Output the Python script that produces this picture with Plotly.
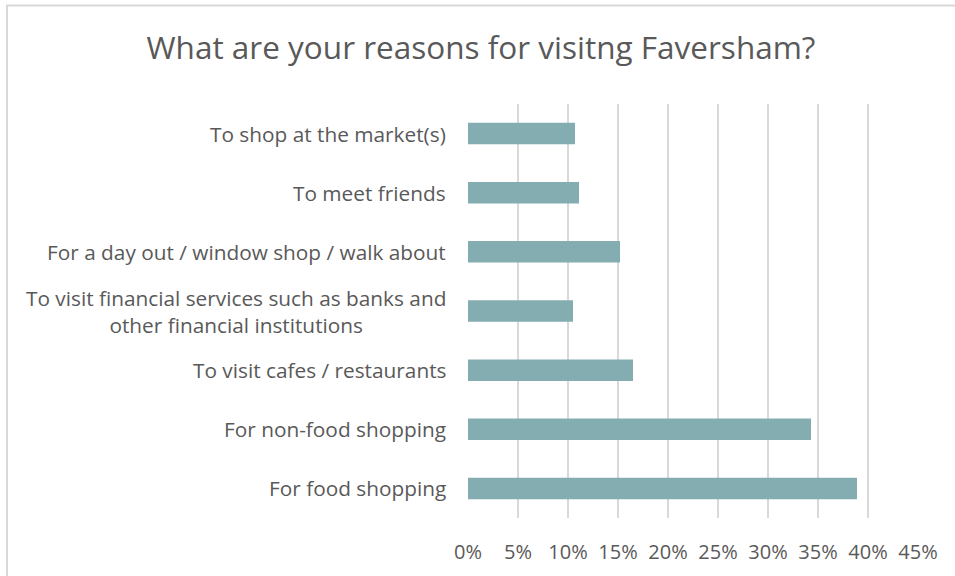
import plotly.graph_objects as go

# Survey responses, listed top to bottom as shown on the chart
reasons = [
    "To shop at the market(s)",
    "To meet friends",
    "For a day out / window shop / walk about",
    "To visit financial services such as banks and<br>other financial institutions",
    "To visit cafes / restaurants",
    "For non-food shopping",
    "For food shopping",
]
shares = [0.107, 0.111, 0.152, 0.105, 0.165, 0.343, 0.389]

x_ticks = [0, 0.05, 0.10, 0.15, 0.20, 0.25, 0.30, 0.35, 0.40, 0.45]
x_tick_text = ["0%", "5%", "10%", "15%", "20%", "25%", "30%", "35%", "40%", "45%"]

title_text = "What are your reasons for visitng Faversham?"

W, H = 955, 576
L, R, T, B = 468, 37, 104, 58
plot_w, plot_h = W - L - R, H - T - B

TEXT = "#595959"
GRID = "#D9D9D9"
BAR = "#84ADB2"
FONT = "Open Sans"

fig = go.Figure(
    go.Bar(
        x=shares,
        y=reasons,
        orientation="h",
        marker=dict(color=BAR, line=dict(width=0)),
        hoverinfo="skip",
    )
)

# category labels, centred per line
for r in reasons:
    fig.add_annotation(
        x=0, xref="paper", y=r, yref="y",
        text=r, showarrow=False,
        xanchor="right", yanchor="middle", align="center",
        xshift=-20,
        font=dict(family=FONT, size=20.8, color=TEXT),
    )

# light chart-area frame (left and top edges visible)
def px_x(p):
    return (p - L) / plot_w

def px_y(p):
    return (H - B - p) / plot_h

fig.add_shape(
    type="rect", xref="paper", yref="paper",
    x0=px_x(7), x1=px_x(W + 10), y0=px_y(H + 10), y1=px_y(5.5),
    line=dict(color=GRID, width=2), fillcolor="rgba(0,0,0,0)", layer="below",
)

fig.update_layout(
    width=W, height=H,
    margin=dict(l=L, r=R, t=T, b=B, pad=0),
    paper_bgcolor="white", plot_bgcolor="white",
    bargap=0.636,
    showlegend=False,
    title=dict(
        text=title_text, x=481 / W, xref="container", xanchor="center",
        y=1 - 48 / H, yref="container", yanchor="middle",
        font=dict(family=FONT, size=31.5, color=TEXT),
    ),
    font=dict(family=FONT, color=TEXT),
)

fig.update_xaxes(
    range=[0, 0.45], tickvals=x_ticks, ticktext=x_tick_text,
    showgrid=True, gridcolor=GRID, gridwidth=2,
    zeroline=False, showline=False, ticks="",
    tickfont=dict(family=FONT, size=20, color=TEXT),
    ticklabelstandoff=20, fixedrange=True,
)
fig.update_yaxes(
    categoryorder="array", categoryarray=reasons, autorange="reversed",
    showticklabels=False, showgrid=False, zeroline=False, showline=False,
    ticks="", fixedrange=True,
)

fig.write_html("out.html", config={"displayModeBar": False})
